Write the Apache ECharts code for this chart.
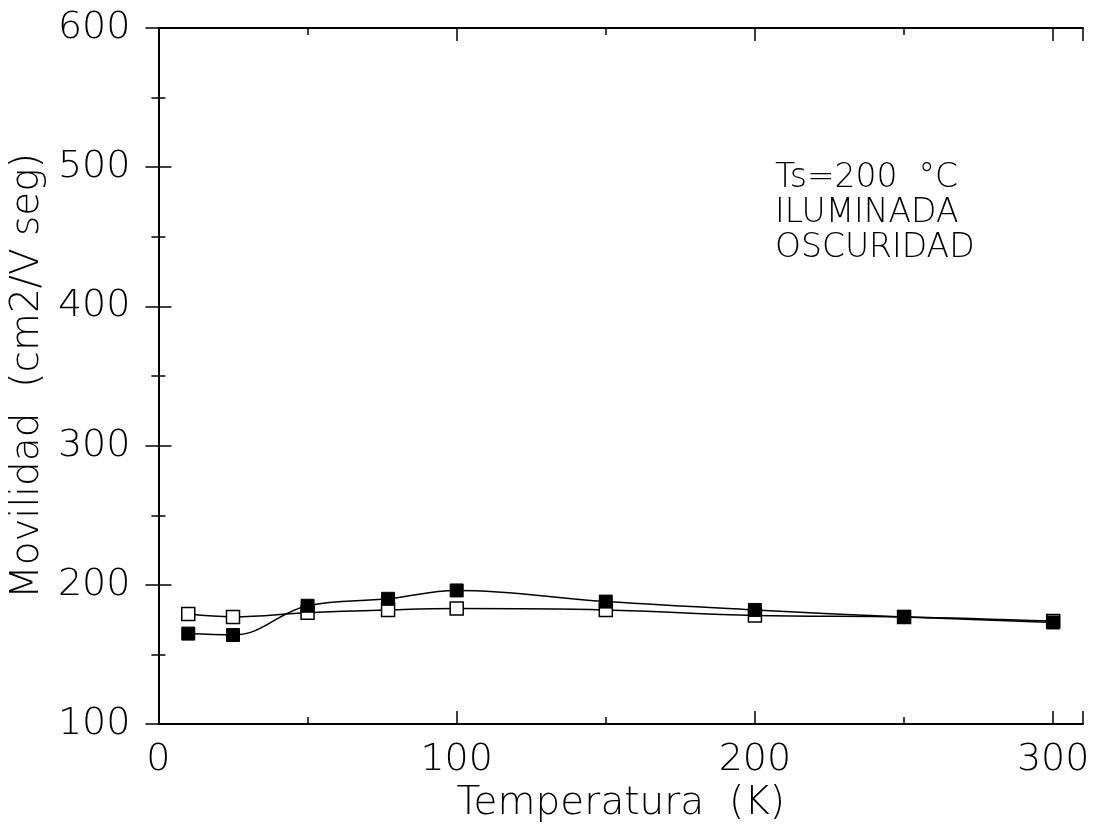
<!DOCTYPE html>
<html>
<head>
<meta charset="utf-8">
<script src="https://cdn.jsdelivr.net/npm/echarts@6/dist/echarts.min.js"></script>
<style>
html,body{margin:0;padding:0;background:#fff;}
#c{width:1097px;height:828px;}
</style>
</head>
<body>
<div id="c"></div>
<script>
const temperatures = [10, 25, 50, 77, 100, 150, 200, 250, 300];
const iluminada = [165, 164, 185, 190, 196, 188, 182, 177, 173];
const oscuridad = [179, 177, 180, 182, 183, 182, 178, 177, 174];
const annotationLines = ['Ts=200  °C', 'ILUMINADA', 'OSCURIDAD'];
const xTitle = 'Temperatura  (K)';
const yTitle = 'Movilidad  (cm2/V seg)';

const FONT = 'DejaVu Sans';
const chart = echarts.init(document.getElementById('c'), null, {renderer: 'canvas'});

const pair = (xs, ys) => xs.map((x, i) => [x, ys[i]]);

const axisCommon = {
  axisLine: {show: true, lineStyle: {color: '#000', width: 2}},
  axisTick: {show: true, inside: true, length: 13, lineStyle: {color: '#000', width: 1.5}},
  minorTick: {show: true, splitNumber: 2, length: 7, lineStyle: {color: '#000', width: 1.5}},
  splitLine: {show: false},
  minorSplitLine: {show: false}
};

chart.setOption({
  backgroundColor: '#fff',
  animation: false,
  grid: {left: 157, right: 14, top: 28, bottom: 101, containLabel: false},
  xAxis: [
    Object.assign({}, axisCommon, {
      type: 'value', min: 0, max: 310, interval: 100, position: 'bottom',
      axisLabel: {show: true, showMaxLabel: false, color: '#000', fontFamily: FONT, fontWeight: 200, fontSize: 38, margin: 17},
      name: xTitle, nameLocation: 'middle', nameGap: 56,
      nameTextStyle: {color: '#000', fontFamily: FONT, fontWeight: 200, fontSize: 39}
    }),
    Object.assign({}, axisCommon, {
      type: 'value', min: 0, max: 310, interval: 100, position: 'top',
      axisLabel: {show: false}
    })
  ],
  yAxis: [
    Object.assign({}, axisCommon, {
      type: 'value', min: 100, max: 600, interval: 100, position: 'left',
      axisLabel: {show: true, color: '#000', fontFamily: FONT, fontWeight: 200, fontSize: 38, margin: 28},
      name: yTitle, nameLocation: 'middle', nameGap: 100, nameRotate: 90,
      nameTextStyle: {color: '#000', fontFamily: FONT, fontWeight: 200, fontSize: 39}
    }),
    Object.assign({}, axisCommon, {
      type: 'value', min: 100, max: 600, interval: 100, position: 'right',
      axisLabel: {show: false}
    })
  ],
  series: [
    {
      name: 'OSCURIDAD', type: 'line', xAxisIndex: 0, yAxisIndex: 0,
      data: pair(temperatures, oscuridad),
      smooth: 0.4,
      symbol: 'rect', symbolSize: 13, showAllSymbol: true,
      lineStyle: {color: '#000', width: 1.5},
      itemStyle: {color: '#fff', borderColor: '#000', borderWidth: 1.5},
      z: 2
    },
    {
      name: 'ILUMINADA', type: 'line', xAxisIndex: 0, yAxisIndex: 0,
      data: pair(temperatures, iluminada),
      smooth: 0.4,
      symbol: 'rect', symbolSize: 13, showAllSymbol: true,
      lineStyle: {color: '#000', width: 1.5},
      itemStyle: {color: '#000', borderColor: '#000', borderWidth: 1},
      z: 3
    }
  ],
  graphic: annotationLines.map((t, i) => ({
    type: 'text',
    left: 775,
    top: 162 + i * 35,
    style: {text: t, fill: '#000', font: '200 33px "DejaVu Sans"'}
  }))
});
</script>
</body>
</html>
